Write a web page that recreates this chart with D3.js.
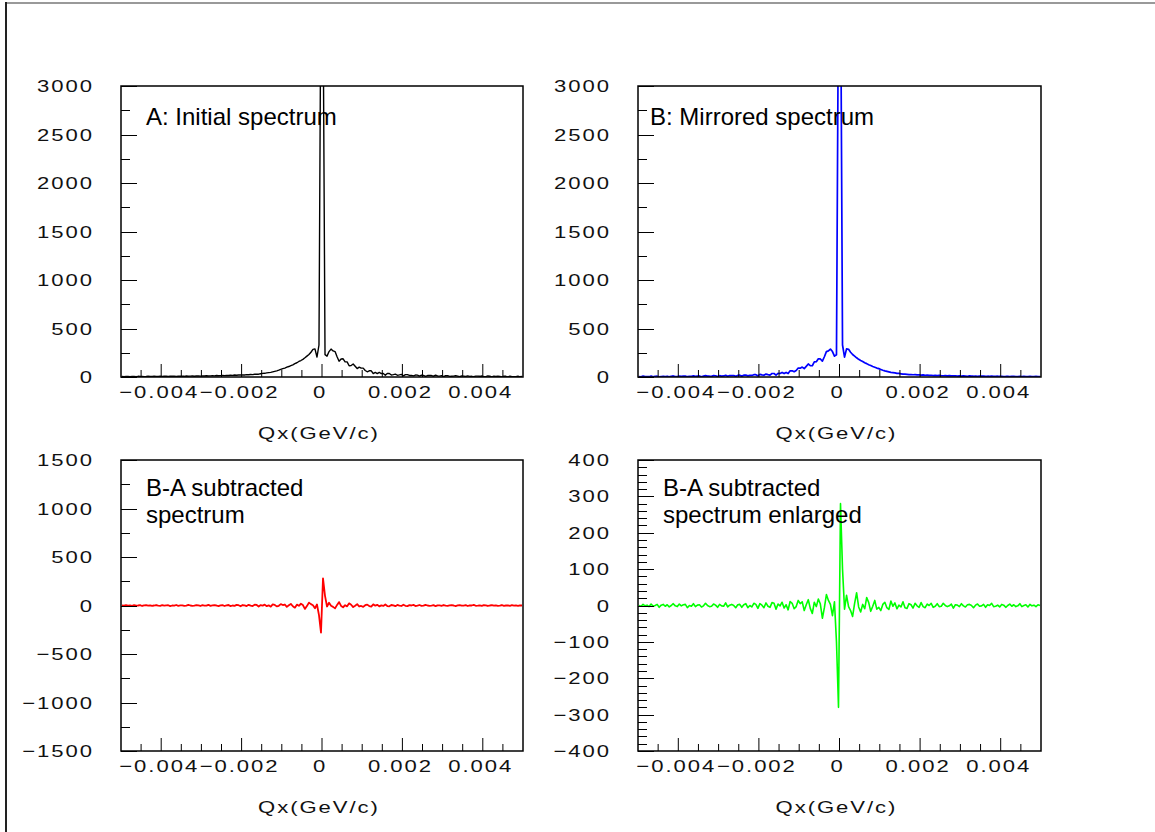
<!DOCTYPE html>
<html>
<head>
<meta charset="utf-8">
<script src="https://cdn.jsdelivr.net/npm/d3@7"></script>
<style>
  html, body { margin: 0; padding: 0; background: #fff; }
  svg { display: block; }
</style>
</head>
<body>
<div id="chart"></div>
<script>
// histogram range in Qx (GeV/c), 200 equal bins
const binLow = -0.005;
const binHigh = 0.005;

// A: initial spectrum (counts per bin)
const spectrumA = [
  5, 4, 6, 5, 3, 6, 5, 4, 7, 5,
  6, 4, 5, 7, 6, 5, 8, 6, 5, 7,
  6, 8, 7, 6, 9, 7, 8, 6, 9, 8,
  9, 7, 10, 8, 9, 11, 8, 10, 12, 9,
  11, 10, 13, 11, 12, 14, 12, 15, 13, 14,
  16, 14, 17, 15, 18, 17, 20, 18, 21, 20,
  22, 21, 24, 23, 26, 25, 28, 30, 29, 33,
  37, 38, 42, 45, 48, 53, 58, 63, 70, 78,
  86, 92, 101, 108, 118, 126, 138, 147, 160, 170,
  182, 198, 215, 232, 255, 285, 290, 205, 330, 4300,
  4020, 230, 215, 262, 288, 269, 262, 209, 163, 186,
  188, 157, 156, 116, 118, 134, 110, 87, 102, 91,
  92, 67, 54, 64, 64, 36, 47, 35, 47, 36,
  37, 19, 36, 36, 20, 24, 30, 18, 22, 27,
  12, 24, 24, 16, 17, 12, 20, 19, 9, 19,
  16, 7, 15, 15, 15, 8, 18, 11, 9, 14,
  4, 13, 14, 6, 8, 9, 14, 9, 3, 11,
  9, 6, 11, 6, 7, 3, 9, 9, 7, 10,
  4, 4, 11, 8, 1, 8, 5, 8, 5, 1,
  8, 7, 2, 9, 3, 4, 4, 9, 2, 5
];

// B: mirrored spectrum (counts per bin)
const spectrumB = [
  5, 2, 9, 4, 4, 3, 9, 2, 7, 8,
  1, 5, 8, 5, 8, 1, 8, 11, 4, 4,
  10, 7, 9, 9, 3, 7, 6, 11, 6, 9,
  11, 3, 9, 14, 9, 8, 6, 14, 13, 4,
  14, 9, 11, 18, 8, 15, 15, 15, 7, 16,
  19, 9, 19, 20, 12, 17, 16, 24, 24, 12,
  27, 22, 18, 30, 24, 20, 36, 36, 19, 37,
  36, 47, 35, 47, 36, 64, 64, 54, 67, 92,
  91, 102, 87, 110, 134, 118, 116, 156, 157, 188,
  186, 163, 209, 262, 269, 288, 262, 215, 230, 4020,
  4300, 330, 205, 290, 285, 255, 232, 215, 198, 182,
  170, 160, 147, 138, 126, 118, 108, 101, 92, 86,
  78, 70, 63, 58, 53, 48, 45, 42, 38, 37,
  33, 29, 30, 28, 25, 26, 23, 24, 21, 22,
  20, 21, 18, 20, 17, 18, 15, 17, 14, 16,
  14, 13, 15, 12, 14, 12, 11, 13, 10, 11,
  9, 12, 10, 8, 11, 9, 8, 10, 7, 9,
  8, 9, 6, 8, 7, 9, 6, 7, 8, 6,
  7, 5, 6, 8, 5, 6, 7, 5, 4, 6,
  5, 7, 4, 5, 6, 3, 5, 6, 4, 5
];

// B-A
const subtracted = spectrumB.map((b, i) => b - spectrumA[i]);

const xTicks = [-0.004, -0.002, 0, 0.002, 0.004];
const xTickLabels = ['\u22120.004', '\u22120.002', '0', '0.002', '0.004'];
const yTicksSpectrum = [0, 500, 1000, 1500, 2000, 2500, 3000];
const yTickLabelsSpectrum = ['0', '500', '1000', '1500', '2000', '2500', '3000'];
const yTicksSub = [-1500, -1000, -500, 0, 500, 1000, 1500];
const yTickLabelsSub = ['\u22121500', '\u22121000', '\u2212500', '0', '500', '1000', '1500'];
const yTicksZoom = [-400, -300, -200, -100, 0, 100, 200, 300, 400];
const yTickLabelsZoom = ['\u2212400', '\u2212300', '\u2212200', '\u2212100', '0', '100', '200', '300', '400'];
const xTitle = 'Qx(GeV/c)';

const width = 1155, height = 832;
const tickFont = "'Liberation Sans', Arial, sans-serif";

const svg = d3.select('#chart').append('svg')
  .attr('width', width)
  .attr('height', height);

// canvas border (only top and left edges show)
svg.append('line').attr('x1', 5).attr('x2', width).attr('y1', 3).attr('y2', 3)
  .attr('stroke', '#999').attr('stroke-width', 2);
svg.append('line').attr('x1', 6).attr('x2', 6).attr('y1', 2).attr('y2', height)
  .attr('stroke', '#222').attr('stroke-width', 2);

const panels = [
  { left: 121, right: 523, top: 86, bottom: 377, data: spectrumA, color: '#000', lw: 1.4,
    yDomain: [0, 3000], yTicks: yTicksSpectrum, yLabels: yTickLabelsSpectrum, minor: 250,
    title: ['A: Initial spectrum'], tx: 146 },
  { left: 638, right: 1041, top: 86, bottom: 377, data: spectrumB, color: '#0000ff', lw: 1.7,
    yDomain: [0, 3000], yTicks: yTicksSpectrum, yLabels: yTickLabelsSpectrum, minor: 250,
    title: ['B: Mirrored spectrum'], tx: 650 },
  { left: 121, right: 523, top: 460, bottom: 751, data: subtracted, color: '#ff0000', lw: 1.8,
    yDomain: [-1500, 1500], yTicks: yTicksSub, yLabels: yTickLabelsSub, minor: 250,
    title: ['B-A subtracted', 'spectrum'], tx: 146 },
  { left: 638, right: 1041, top: 460, bottom: 751, data: subtracted, color: '#00ff00', lw: 1.6,
    yDomain: [-400, 400], yTicks: yTicksZoom, yLabels: yTickLabelsZoom, minor: 20,
    title: ['B-A subtracted', 'spectrum enlarged'], tx: 663 }
];

function tickText(g, x, y, text, anchor) {
  g.append('text')
    .attr('transform', `translate(${x},${y}) scale(1.3,1)`)
    .attr('text-anchor', anchor)
    .attr('letter-spacing', 1.5)
    .style('font-family', tickFont)
    .style('font-size', '17px')
    .attr('fill', '#111')
    .text(text);
}

panels.forEach((p, k) => {
  const g = svg.append('g');
  const x = d3.scaleLinear().domain([binLow, binHigh]).range([p.left, p.right]);
  const y = d3.scaleLinear().domain(p.yDomain).range([p.bottom, p.top]);
  const binWidth = (binHigh - binLow) / p.data.length;

  // clip for the curve
  svg.append('clipPath').attr('id', 'clip' + k)
    .append('rect')
    .attr('x', p.left).attr('y', p.top)
    .attr('width', p.right - p.left).attr('height', p.bottom - p.top);

  // histogram drawn as a polyline through bin centres
  const line = d3.line()
    .x((d, i) => x(binLow + (i + 0.5) * binWidth))
    .y(d => y(d));
  g.append('path')
    .attr('clip-path', `url(#clip${k})`)
    .attr('d', line(p.data))
    .attr('fill', 'none')
    .attr('stroke', p.color)
    .attr('stroke-width', p.lw)
    .attr('stroke-linejoin', 'round');

  // ticks (inside the frame)
  const xMinor = d3.range(-0.0045, 0.0050, 0.0005).filter(v => Math.abs(Math.round(v / 0.002) * 0.002 - v) > 1e-9);
  g.selectAll('.xmin').data(xMinor).join('line')
    .attr('x1', d => x(d)).attr('x2', d => x(d))
    .attr('y1', p.bottom).attr('y2', p.bottom - 7)
    .attr('stroke', '#000').attr('stroke-width', 1);
  g.selectAll('.xmaj').data(xTicks).join('line')
    .attr('x1', d => x(d)).attr('x2', d => x(d))
    .attr('y1', p.bottom).attr('y2', p.bottom - 13)
    .attr('stroke', '#000').attr('stroke-width', 1);

  const yMinor = d3.range(p.yDomain[0], p.yDomain[1] + 1e-9, p.minor);
  g.selectAll('.ymin').data(yMinor).join('line')
    .attr('x1', p.left).attr('x2', p.left + 9)
    .attr('y1', d => Math.round(y(d)) + 0.5).attr('y2', d => Math.round(y(d)) + 0.5)
    .attr('stroke', '#000').attr('stroke-width', 1);
  g.selectAll('.ymaj').data(p.yTicks).join('line')
    .attr('x1', p.left).attr('x2', p.left + 16)
    .attr('y1', d => Math.round(y(d)) + 0.5).attr('y2', d => Math.round(y(d)) + 0.5)
    .attr('stroke', '#000').attr('stroke-width', 1);

  // frame
  g.append('rect')
    .attr('x', p.left).attr('y', p.top)
    .attr('width', p.right - p.left).attr('height', p.bottom - p.top)
    .attr('fill', 'none').attr('stroke', '#000').attr('stroke-width', 1.5);

  // tick labels
  p.yTicks.forEach((v, i) => tickText(g, p.left - 27, y(v) + 6, p.yLabels[i], 'end'));
  xTicks.forEach((v, i) => tickText(g, x(v) - 2, p.bottom + 21, xTickLabels[i], 'middle'));
  tickText(g, (p.left + p.right) / 2 - 3, p.bottom + 62, xTitle, 'middle');

  // panel caption
  p.title.forEach((t, i) => {
    g.append('text')
      .attr('x', p.tx).attr('y', (p.top === 86 ? 125 : p.top + 36) + i * 27)
      .style('font-family', "'Liberation Sans', Arial, sans-serif")
      .style('font-size', '24px')
      .attr('fill', '#000')
      .text(t);
  });
});
</script>
</body>
</html>
